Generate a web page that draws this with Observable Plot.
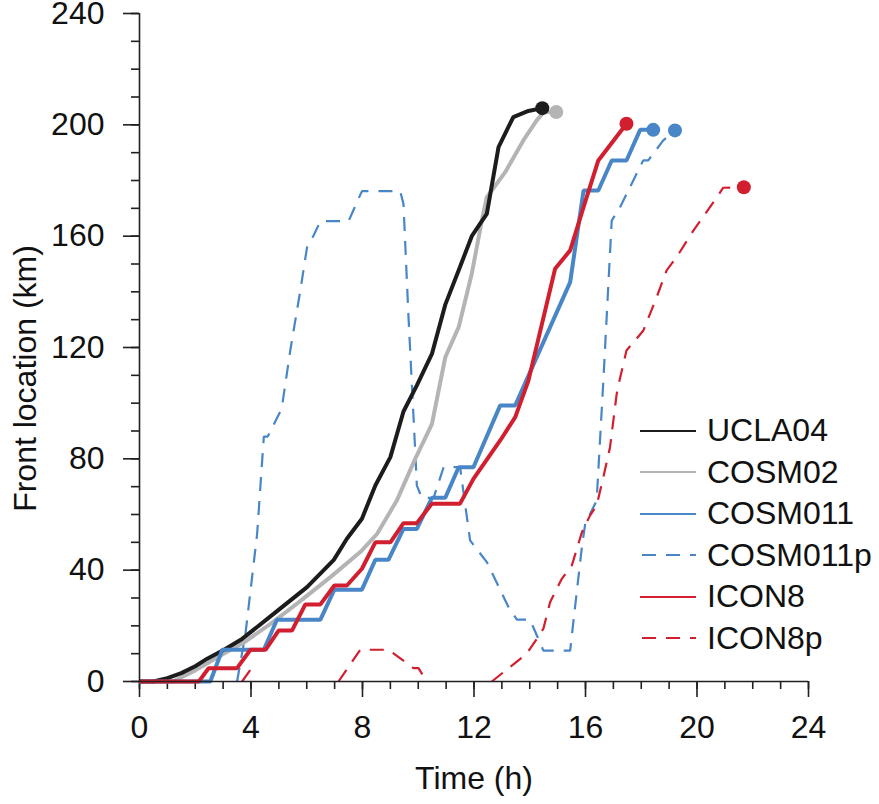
<!DOCTYPE html>
<html>
<head>
<meta charset="utf-8">
<script src="https://cdn.jsdelivr.net/npm/d3@7"></script>
<script src="https://cdn.jsdelivr.net/npm/@observablehq/plot@0.6"></script>
<style>
  html, body { margin: 0; padding: 0; background: #fff; }
  #wrap { position: relative; width: 879px; height: 804px; font-family: "Liberation Sans", Arial, sans-serif; }
  #legend { position: absolute; left: 640px; top: 410px; }
  .row { display: flex; align-items: center; height: 41.5px; font-size: 32px; color: #111; }
  .row svg { width: 56px; height: 6px; margin-right: 11px; }
</style>
</head>
<body>
<div id="wrap"></div>
<script>
// Series: [time (h), front location (km)]; null = no front detected (gap)
const UCLA04 = [[0,0],[0.5,0],[1,1.2],[1.5,3],[2,5.5],[2.43,8.2],[3.05,11.5],[3.68,15.3],[4.81,24.3],[6.01,33.9],[6.97,43.7],[7.44,51.3],[7.98,58.5],[8.46,70.4],[9.0,80.6],[9.47,97],[9.95,106.4],[10.49,117.7],[10.97,135.4],[11.5,149],[11.92,160],[12.22,164.5],[12.46,168],[12.88,192],[13.41,202.8],[13.95,205],[14.45,206]];
const COSM02 = [[0,0],[1.2,0],[2,4],[3.02,10],[3.74,14],[4.7,20.7],[5.65,28],[6.85,37.5],[7.92,46.5],[8.52,53],[9.23,65],[9.89,80],[10.49,92.5],[10.97,116.5],[11.45,127.3],[11.92,146.5],[12.28,165.6],[12.46,174],[13.12,183],[13.77,194.4],[14.25,201.6],[14.5,204.6],[14.95,204.6]];
const COSM011 = [[0,0],[2.54,0],[2.97,11.4],[4.46,11.4],[4.93,22.2],[6.49,22.2],[6.99,33],[7.98,33],[8.46,43.7],[8.93,43.7],[9.47,54.8],[9.95,54.8],[10.49,66],[10.97,66],[11.45,77],[11.98,77],[12.94,99.2],[13.48,99.2],[15.45,143.5],[15.93,176.4],[16.46,176.4],[16.94,187.2],[17.47,187.2],[17.96,198.2],[18.43,198.2]];
const COSM011p = [[3.5,0],[3.8,17],[4.22,53],[4.46,88],[4.6,88],[5.1,98],[5.41,119],[5.77,140.5],[6.01,156],[6.25,160.3],[6.49,165.4],[7.5,165.4],[7.98,176.2],[9.35,176.2],[9.47,171.6],[9.65,131],[9.89,83],[9.95,70.4],[10.13,66],[10.55,66],[10.91,77],[11.5,77],[11.86,50.7],[12.46,42.9],[13.24,26.7],[13.54,22.2],[14.01,22.2],[14.49,11.1],[15.45,11.1],[15.57,21.9],[15.87,48.3],[15.99,56.7],[16.4,65],[16.64,108],[16.94,165.6],[17.24,170.4],[18.07,187.2],[18.25,187.2],[18.79,194.4],[19.21,198]];
const ICON8 = [[0,0],[2.13,0],[2.48,4.8],[3.5,4.8],[3.98,11.4],[4.52,11.4],[4.99,18.3],[5.47,18.3],[5.95,27.7],[6.49,27.7],[6.99,34.5],[7.44,34.5],[7.98,40.5],[8.46,50],[9.0,50],[9.47,56.9],[9.95,56.9],[10.49,63.9],[11.5,63.9],[11.98,72.8],[12.94,86.6],[13.48,95],[13.95,108],[14.91,148.3],[15.45,154.9],[15.93,170.4],[16.46,187.2],[17.47,200.4]];
const ICON8p = [[3.68,0],[4.02,4.8],[4.1,null],[7.14,0],[7.92,11.4],[8.93,11.4],[9.83,4.8],[10.01,4.8],[10.3,0],[10.4,null],[12.64,0],[13.89,10],[14.25,15.3],[14.49,19],[14.73,28.5],[15.15,36.9],[15.51,41.7],[15.87,53.6],[16.16,59.6],[16.4,63.2],[16.64,73.4],[16.88,84.2],[17.12,103.4],[17.24,109],[17.47,118.9],[18.07,126],[18.55,138],[18.91,147.7],[19.27,152.5],[19.87,162],[20.59,172.2],[20.94,177.4],[21.68,177.6]];

const seriesNames = ["UCLA04","COSM02","COSM011","COSM011p","ICON8","ICON8p"];
const seriesData = [UCLA04, COSM02, COSM011, COSM011p, ICON8, ICON8p];
const seriesColors = ["#1c1c1c","#b4b4b6","#4886c7","#4886c7","#d11f2f","#d11f2f"];
const seriesDashed = [false,false,false,true,false,true];
const drawOrder = ["COSM011p","ICON8p","COSM02","UCLA04","COSM011","ICON8"];

const xTicks = [0,4,8,12,16,20,24];
const yTicks = [0,40,80,120,160,200,240];
const xLabel = "Time (h)";
const yLabel = "Front location (km)";

const FONT = 32;
const lineMarks = [];
const dotMarks = [];
for (const name of drawOrder) {
  const i = seriesNames.indexOf(name);
  const rows = seriesData[i].map(([t, v]) => ({t, v}));
  lineMarks.push(Plot.line(rows, {
    x: "t", y: "v", stroke: seriesColors[i],
    strokeWidth: seriesDashed[i] ? 2.2 : 4,
    strokeDasharray: seriesDashed[i] ? "14,10" : null,
    strokeLinejoin: "miter", strokeLinecap: "butt"
  }));
  dotMarks.push(Plot.dot([rows[rows.length - 1]], {x: "t", y: "v", r: 7, fill: seriesColors[i], stroke: "none"}));
}

const axisColor = "#231f20";
const chart = Plot.plot({
  width: 879, height: 804,
  marginTop: 13, marginBottom: 123, marginLeft: 139, marginRight: 71,
  x: {domain: [0, 24]},
  y: {domain: [0, 240]},
  style: {fontFamily: "'Liberation Sans', Arial, sans-serif", fontSize: FONT + "px", color: "#111", background: "#fff", overflow: "visible"},
  marks: [
    Plot.axisX({ticks: d3.range(0, 25, 1), tickSize: 8, text: null, label: null, stroke: axisColor, strokeWidth: 1.6}),
    Plot.axisX({ticks: xTicks, tickSize: 16, tickPadding: 18, label: null, stroke: axisColor, strokeWidth: 1.6, fontSize: FONT, fill: "#111"}),
    Plot.axisY({ticks: d3.range(0, 241, 10), tickSize: 8, text: null, label: null, stroke: axisColor, strokeWidth: 1.6}),
    Plot.axisY({ticks: yTicks, tickSize: 16, tickPadding: 19, label: null, stroke: axisColor, strokeWidth: 1.6, fontSize: FONT, fill: "#111"}),
    ...lineMarks,
    Plot.ruleY([0], {stroke: axisColor, strokeWidth: 1.6}),
    Plot.ruleX([0], {stroke: axisColor, strokeWidth: 1.6}),
    ...dotMarks,
    Plot.text([xLabel], {frameAnchor: "bottom", dy: 107, fontSize: FONT, fill: "#111"}),
    Plot.text([yLabel], {frameAnchor: "left", textAnchor: "middle", rotate: -90, dx: -114, dy: 31, fontSize: FONT, fill: "#111"})
  ]
});

const wrap = document.getElementById("wrap");
wrap.appendChild(chart);

// Legend
const legend = document.createElement("div");
legend.id = "legend";
seriesNames.forEach((name, i) => {
  const row = document.createElement("div");
  row.className = "row";
  const dash = seriesDashed[i] ? ' stroke-dasharray="14,10" stroke-dashoffset="-2"' : '';
  row.innerHTML = `<svg viewBox="0 0 56 6"><line x1="0" y1="3" x2="56" y2="3" stroke="${seriesColors[i]}" stroke-width="2.2"${dash}/></svg><span>${name}</span>`;
  legend.appendChild(row);
});
wrap.appendChild(legend);
</script>
</body>
</html>
